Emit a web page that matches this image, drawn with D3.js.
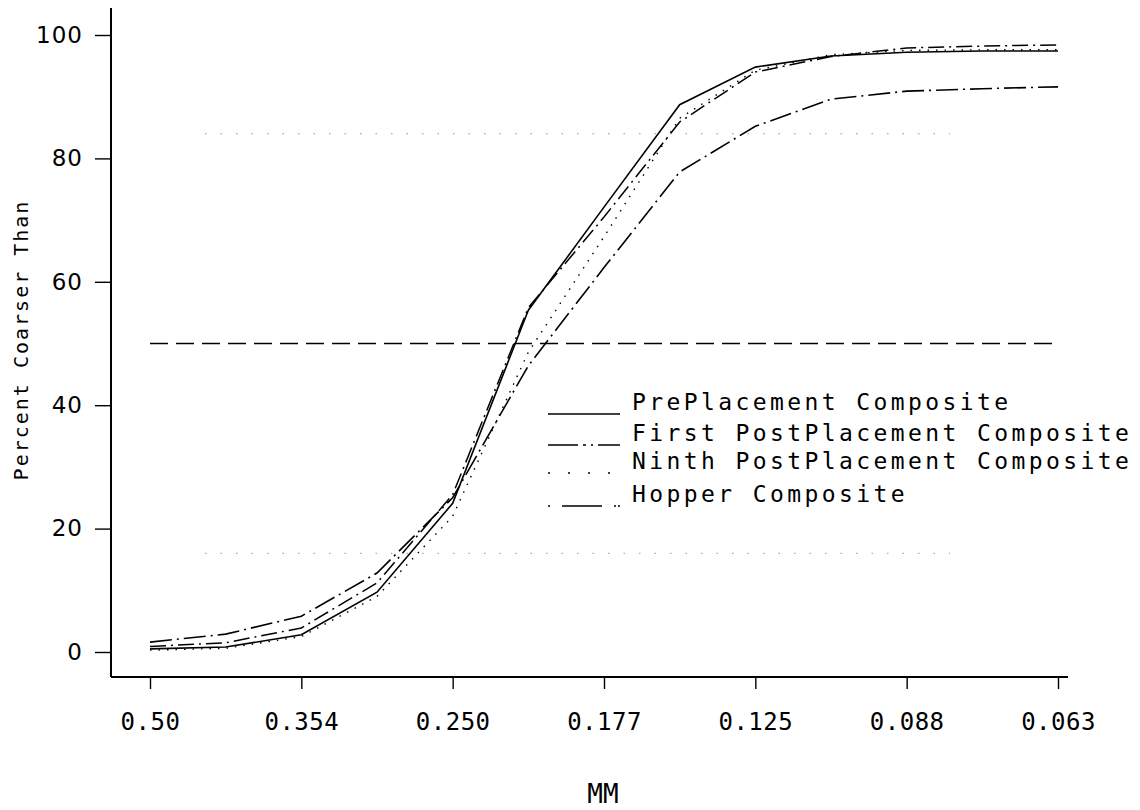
<!DOCTYPE html>
<html>
<head>
<meta charset="utf-8">
<script src="https://cdn.jsdelivr.net/npm/d3@7"></script>
<style>
  body { margin: 0; background: #fff; }
  svg { display: block; }
</style>
</head>
<body>
<script>
// sieve sizes (mm) on the x axis, every other one labelled
const sieves = [0.5, 0.42, 0.354, 0.297, 0.25, 0.21, 0.177, 0.149, 0.125, 0.105, 0.088, 0.074, 0.063];
const tickLabels = ["0.50", "0.354", "0.250", "0.177", "0.125", "0.088", "0.063"];

const prePlacement   = [0.5, 0.8, 2.8, 9.7, 24.1, 55.4, 72.1, 88.7, 94.8, 96.6, 97.2, 97.4, 97.4];
const firstPost      = [0.9, 1.5, 3.9, 11.2, 25.5, 55.8, 70.5, 85.9, 94.0, 96.5, 97.9, 98.2, 98.4];
const ninthPost      = [0.3, 0.6, 2.5, 9.0, 22.0, 48.6, 67.3, 86.5, 94.3, 96.8, 97.5, 97.6, 97.6];
const hopper         = [1.6, 2.9, 5.8, 12.8, 25.0, 46.4, 62.3, 77.8, 85.2, 89.6, 90.9, 91.3, 91.6];

const seriesNames = [
  "PrePlacement Composite",
  "First PostPlacement Composite",
  "Ninth PostPlacement Composite",
  "Hopper Composite",
];

// reference levels (percent)
const medianLevel = 50;
const sigmaLevels = [84, 16];

const w = 1140;
const h = 810;

const series = [
  { name: seriesNames[0], values: prePlacement, dash: null, width: 1.6 },
  { name: seriesNames[1], values: firstPost, dash: "16,5,2,5", width: 1.5 },
  { name: seriesNames[2], values: ninthPost, dash: "1.5,7", width: 1.4 },
  { name: seriesNames[3], values: hopper, dash: "22,5,2,5", width: 1.6 },
];

const svg = d3.select("body").append("svg")
  .attr("width", w)
  .attr("height", h)
  .style("font-family", "'DejaVu Sans Mono', monospace");

const x = d3.scaleLinear().domain([0, sieves.length - 1]).range([150, 1058]);
const y = d3.scaleLinear().domain([0, 100]).range([652, 35]);

// axes
const xAxis = d3.axisBottom(x)
  .tickValues(d3.range(0, sieves.length, 2))
  .tickFormat((d, i) => tickLabels[i])
  .tickSize(12)
  .tickPadding(24)
  .tickSizeOuter(0);

const yAxis = d3.axisLeft(y)
  .tickValues([0, 20, 40, 60, 80, 100])
  .tickSize(16)
  .tickPadding(12)
  .tickSizeOuter(0);

const gx = svg.append("g")
  .attr("transform", "translate(0,677)")
  .call(xAxis);
gx.select(".domain").remove();
gx.selectAll("line").attr("stroke", "#000").attr("stroke-width", 1.4);
gx.selectAll("text")
  .attr("font-size", 24)
  .attr("letter-spacing", 0.5)
  .attr("fill", "#000")
  .style("font-family", "'DejaVu Sans Mono', monospace");

const gy = svg.append("g")
  .attr("transform", "translate(111,0)")
  .call(yAxis);
gy.select(".domain").remove();
gy.selectAll("line").attr("stroke", "#000").attr("stroke-width", 1.4);
gy.selectAll("text")
  .attr("font-size", 23)
  .attr("letter-spacing", 1)
  .attr("fill", "#000")
  .style("font-family", "'DejaVu Sans', sans-serif");

svg.append("line")
  .attr("x1", 111).attr("x2", 111)
  .attr("y1", 8).attr("y2", 677)
  .attr("stroke", "#000").attr("stroke-width", 2);

svg.append("line")
  .attr("x1", 111).attr("x2", 1068)
  .attr("y1", 677).attr("y2", 677)
  .attr("stroke", "#000").attr("stroke-width", 2);

// reference lines
svg.append("line")
  .attr("x1", x(0)).attr("x2", x(sieves.length - 1))
  .attr("y1", y(medianLevel)).attr("y2", y(medianLevel))
  .attr("stroke", "#000")
  .attr("stroke-width", 1.5)
  .attr("stroke-dasharray", "18,8");

svg.selectAll(".sigma")
  .data(sigmaLevels)
  .join("line")
  .attr("class", "sigma")
  .attr("x1", 205).attr("x2", 950)
  .attr("y1", (d) => y(d)).attr("y2", (d) => y(d))
  .attr("stroke", "#aaa")
  .attr("stroke-width", 1.2)
  .attr("stroke-dasharray", "1.5,14");

// data lines
const line = d3.line()
  .x((d, i) => x(i))
  .y((d) => y(d));

svg.selectAll(".series")
  .data(series)
  .join("path")
  .attr("class", "series")
  .attr("d", (d) => line(d.values))
  .attr("fill", "none")
  .attr("stroke", "#000")
  .attr("stroke-width", (d) => d.width)
  .attr("stroke-dasharray", (d) => d.dash);

// legend
const legend = svg.append("g").attr("transform", "translate(548,0)");
const rowY = [414, 445, 473, 506];

legend.selectAll("line")
  .data(series)
  .join("line")
  .attr("x1", 0).attr("x2", 72)
  .attr("y1", (d, i) => rowY[i]).attr("y2", (d, i) => rowY[i])
  .attr("stroke", "#000")
  .attr("stroke-width", (d) => d.width)
  .attr("stroke-dasharray", (d, i) => ["", "30,5,3,5,2,5", "2,18", "2,12,40,12,2"][i]);

legend.selectAll("text")
  .data(series)
  .join("text")
  .attr("x", 84)
  .attr("y", (d, i) => rowY[i] - 4)
  .attr("font-size", 23)
  .attr("letter-spacing", 3.4)
  .attr("fill", "#000")
  .text((d) => d.name);

// axis titles
svg.append("text")
  .attr("x", 603)
  .attr("y", 803)
  .attr("text-anchor", "middle")
  .attr("font-size", 26)
  .attr("fill", "#000")
  .style("font-family", "'DejaVu Sans Mono', monospace")
  .text("MM");

svg.append("text")
  .attr("transform", "translate(28,340) rotate(-90)")
  .attr("text-anchor", "middle")
  .attr("font-size", 20)
  .attr("letter-spacing", 2)
  .attr("fill", "#000")
  .text("Percent Coarser Than");
</script>
</body>
</html>
